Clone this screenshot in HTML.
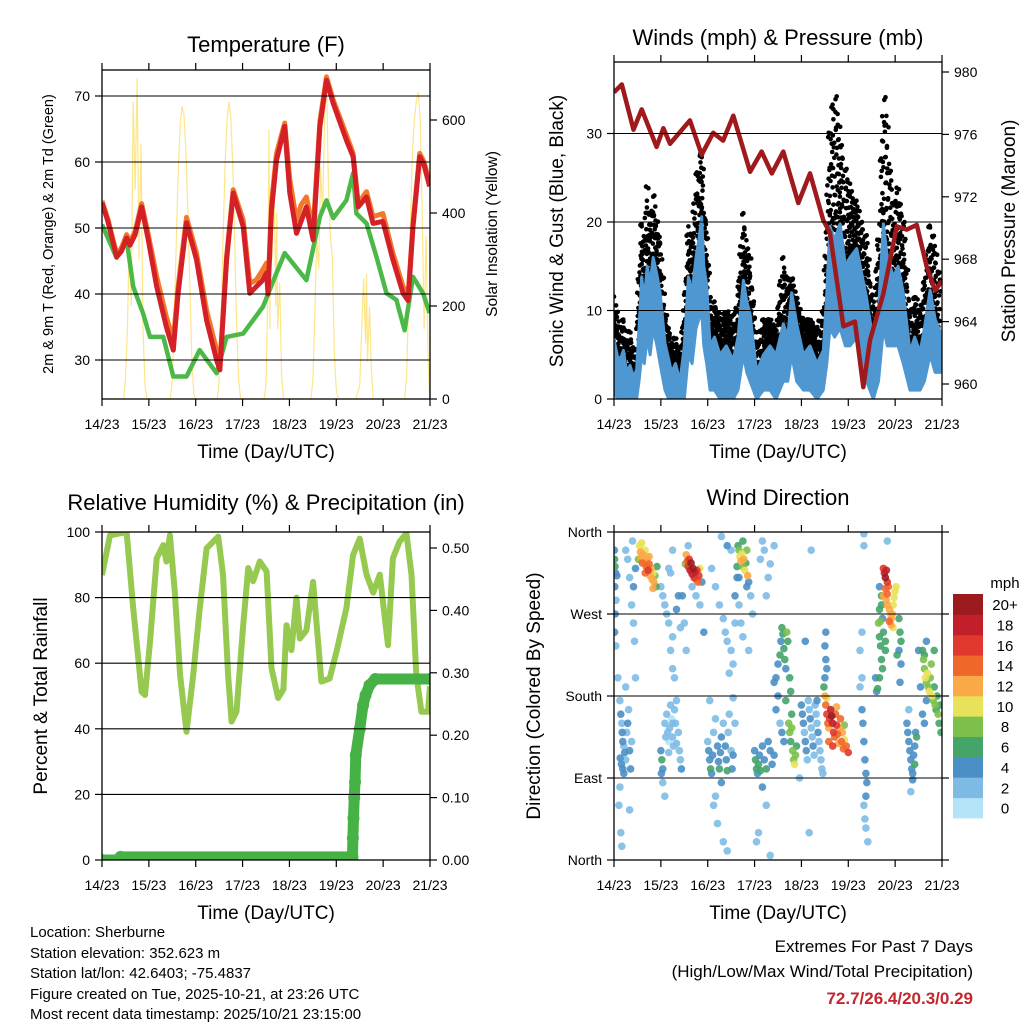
<!DOCTYPE html>
<html><head><meta charset="utf-8"><style>
body{margin:0;background:#fff}
svg{display:block;font-family:"Liberation Sans",Arial,sans-serif}
</style></head><body>
<svg id="s" width="1024" height="1024" viewBox="0 0 1024 1024" xmlns="http://www.w3.org/2000/svg">
<defs>
<clipPath id="c1"><rect x="102" y="70" width="328" height="329"/></clipPath>
<clipPath id="c2"><rect x="614" y="62" width="328" height="337"/></clipPath>
<clipPath id="c3"><rect x="102" y="532" width="328" height="328"/></clipPath>
<clipPath id="c4"><rect x="614" y="532" width="328" height="328"/></clipPath>
</defs>
<g id="g1" clip-path="url(#c1)"></g>
<g id="g2" clip-path="url(#c2)"></g>
<g id="g3" clip-path="url(#c3)"></g>
<g id="g4" clip-path="url(#c4)"></g>
<g id="ax"></g>

<text x="266" y="52" font-size="22" text-anchor="middle">Temperature (F)</text>
<text transform="translate(53,234) rotate(-90)" font-size="14.5" text-anchor="middle">2m &amp; 9m T (Red, Orange) &amp; 2m Td (Green)</text>
<text transform="translate(497,234) rotate(-90)" font-size="15.5" text-anchor="middle">Solar Insolation (Yellow)</text>
<text x="266" y="458" font-size="19" text-anchor="middle">Time (Day/UTC)</text>

<text x="778" y="45" font-size="22" text-anchor="middle">Winds (mph) &amp; Pressure (mb)</text>
<text transform="translate(563,231) rotate(-90)" font-size="19" text-anchor="middle">Sonic Wind &amp; Gust (Blue, Black)</text>
<text transform="translate(1015,231) rotate(-90)" font-size="19" text-anchor="middle">Station Pressure (Maroon)</text>
<text x="778" y="458" font-size="19" text-anchor="middle">Time (Day/UTC)</text>

<text x="266" y="510" font-size="22" text-anchor="middle">Relative Humidity (%) &amp; Precipitation (in)</text>
<text transform="translate(47,696) rotate(-90)" font-size="19" text-anchor="middle">Percent &amp; Total Rainfall</text>
<text x="266" y="919" font-size="19" text-anchor="middle">Time (Day/UTC)</text>

<text x="778" y="505" font-size="22" text-anchor="middle">Wind Direction</text>
<text transform="translate(540,696) rotate(-90)" font-size="19" text-anchor="middle">Direction (Colored By Speed)</text>
<text x="778" y="919" font-size="19" text-anchor="middle">Time (Day/UTC)</text>
<text x="1005" y="588" font-size="15" text-anchor="middle">mph</text>
<g id="cb"></g>

<g font-size="15">
<text x="30" y="937">Location: Sherburne</text>
<text x="30" y="958">Station elevation: 352.623 m</text>
<text x="30" y="978">Station lat/lon: 42.6403; -75.4837</text>
<text x="30" y="999">Figure created on Tue, 2025-10-21, at 23:26 UTC</text>
<text x="30" y="1019">Most recent data timestamp: 2025/10/21 23:15:00</text>
</g>
<text x="973" y="952" font-size="17" text-anchor="end">Extremes For Past 7 Days</text>
<text x="973" y="977" font-size="17" text-anchor="end">(High/Low/Max Wind/Total Precipitation)</text>
<text x="973" y="1004" font-size="17" font-weight="bold" fill="#c1272d" text-anchor="end">72.7/26.4/20.3/0.29</text>
</svg>
<script>
// ---------- data ----------
const dayLabels = ["14/23","15/23","16/23","17/23","18/23","19/23","20/23","21/23"];
const tempHours = [0,3,7.5,10,12.6,14.3,17,20.3,23.7,28,33,36.5,39,43.3,48.4,53.6,58.7,60.4,63.8,67.2,72.3,75.7,79,82,84.3,85,86.8,89.4,93.6,96.2,99.6,102,104.7,108.1,111.6,115,118.4,125.2,128.6,131.2,135.5,138.8,143.9,149,154.2,156.8,159.3,162.7,165,167.8];
const temp2m = [53.8,51,45.6,46.5,48.5,47.4,49,53.2,48.2,41.1,35,31.5,40.1,50.8,45.2,36,30,28.5,45.2,55.3,50.2,40.1,41.1,42,43.2,40,52.7,60.3,65.4,55.3,49.2,51,53.2,48.2,65.4,72.4,68.9,63.3,60.8,53.2,54.7,50.7,51,45.2,40.1,39,50.2,60.8,59.5,56.3];
const temp9m = [54.1,51.3,46.1,47,49,47.9,49.5,53.7,49,42.6,36.5,33,41.1,51.6,46.2,37.5,31.5,29.5,45.7,55.8,51.2,41.6,42.1,43.5,44.7,41,53.7,61.3,65.9,57.3,51.2,53.5,54.7,49.7,66.2,72.9,69.4,64.1,61.3,53.7,55.5,51.7,52.2,46.2,41.1,39.8,50.7,61.3,60,56.8];
const dewHours = [0,7.5,12.6,16,21,24.6,31.4,36.5,43.3,50,58.7,63.8,72.3,82.5,89.4,93.6,104.7,111.6,115,118.4,125.2,128.6,130.3,135.5,140.6,145.7,150.8,155,159.3,164.4,167.8];
const dewpoint = [50.5,45.5,48.3,41.1,37.1,33.5,33.5,27.5,27.5,31.5,28,33.5,34,38.1,43.2,46.2,42.1,51.7,54.2,51.5,54.2,58.3,52.2,50.7,45.6,40.1,39.1,34.5,42.6,40.1,37.1];
const solarHours = [0,11,12,13,14,15,16,17,18,19,20,21,22,23,35,36,37,38,39,40,41,42,43,44,45,46,47,48,59,60,61,62,63,64,65,66,67,68,69,70,71,83,84,85,85.5,86,86.5,87,88,89,89.5,90,91,92,93,107,108,109,110,111,112,113,114,115,116,117,118,119,120,121,130,132,133,134,135,135.5,136,137,138,139,155,156,157,158,159,160,161,162,163,164,165,166,167,167.8];
const solar = [0,0,40,150,350,200,640,450,690,300,550,150,30,0,0,40,170,330,480,590,630,610,530,400,240,90,10,0,0,40,170,340,500,600,640,600,500,330,150,40,0,0,30,250,580,150,450,300,520,200,400,150,250,50,0,0,40,180,350,280,500,400,600,700,450,350,300,100,20,0,0,30,150,260,120,270,80,200,60,0,0,50,200,380,530,600,640,660,600,400,150,350,100,0];
const tempTicks = [30,40,50,60,70];
const solarTicks = [0,200,400,600];

const windHours = [0,2.5,4.8,6.5,8.2,10,11.6,12.8,14.2,15.5,17,18.5,20.1,22,23.6,26.1,28,29.5,31.5,33.8,36,38.1,40,42,43.5,44.9,46,47.5,49.2,51.5,54.3,57.5,61.1,63.5,66.3,68,69.7,73.1,76.5,79.9,83,86.7,89,91,93.6,97,100.4,104,107.2,109,110.6,113,115.8,118.5,120.9,124.3,127,129.4,132.8,135.5,138,140,143.1,145.5,148.2,151.6,154,156.8,159,161.9,164.5,167];
const windHigh = [6.7,4,5.5,3,3.8,2.5,3.3,8,13.8,11,15,13,16,14,12,6.3,4.5,3,4,2,6,13.8,12,16,18,20.6,15,12.9,6,7,5,6,4.4,7,13.4,11,9.6,3,5,6,5,8.5,7,12,8.5,5,6,4,5.5,12,19.5,18,19.8,15,16,17,14,11.4,6.4,10,19.8,16,13.8,15,12,5.3,7,5.3,8,12.3,9,7.7];
const windLow = [0.5,0,0,0,0,0,0,2,5,4,7,5,8,6,4,1,0,0,0,0,0,5,4,8,9,10,6,4,1,1,0,0,0,1,5,3,2,0,1,1,0,2,2,5,2,1,1,0,1,4,8,7,8,6,6,7,5,2,0,2,8,6,6,6,4,1,1,1,2,5,3,3];
const gust = [12,8,9,6,8,5,6,14,20,18,24,21,23,20,18,10,8,6,7,5,10,20,18,25,27,29,22,19,10,11,9,10,9,12,21,17,16,6,9,9,8,16,13,14,11,9,9,8,10,22,31,35,30,26,24,22,20,18,10,18,35,31,22,24,20,10,12,10,14,20,17,14];
const presHours = [0,4,10,14.2,21.8,25.3,28.7,38.9,44.9,50.8,55.9,61.1,69.7,75.6,80.8,86.7,94.4,100.4,107.2,110.6,117.5,123.4,127.7,131.1,138,144.8,149.9,155.1,160.2,164.5,167.9];
const pressure = [978.7,979.2,976.3,977.6,975.2,976.4,975.4,976.9,974.7,976.1,975.6,977.2,973.6,974.9,973.5,974.9,971.6,973.5,970.5,969.7,963.7,964,959.8,962.8,965.8,970.1,969.9,970.2,967.5,966,966.6];
const windTicks = [0,10,20,30];
const presTicks = [960,964,968,972,976,980];

const rhHours = [0,4.1,12.6,16,20.3,22,24.6,28,31.4,33,34.8,37.3,40,43.3,46.7,50.1,53.6,59.5,62,64.6,66.4,68.9,72.3,74.9,77.4,80.8,84.3,86.8,90.2,92.9,94.5,97,99.6,101.3,104.7,108.1,112.4,116.6,120.1,125.2,128.6,132,135.5,138.9,142.3,146.5,149,152.4,155.9,158.5,161,163.6,167,168];
const rh = [86.9,99,100,76.8,51.3,50.3,66.5,92,96,91,99,81.8,56.4,39.1,56.4,76.8,95,98.6,87,56.4,42.2,45.2,71.6,89,85,91,88,58.5,49.4,52,71.6,64,80,67.5,70,84.8,54.4,55.3,63.5,76.8,93,98,87,81.5,87,65.5,92,97,99.6,87,56.4,45.2,45.2,53];
const precipHours = [0,9,9.5,128.3,128.5,128.8,129.2,129.6,130,132,133.7,135,137,140,168];
const precip = [0,0,0.005,0.005,0.035,0.067,0.1,0.125,0.168,0.21,0.248,0.264,0.28,0.29,0.29];
const rhTicks = [0,20,40,60,80,100];
const precipTicks = [0,0.1,0.2,0.3,0.4,0.5];

// wind direction observations: [hour, degrees, mph]
const dirDay1 = [[0.3,330,5],[0.5,322,6],[0.8,315,4],[0.4,300,3],[1,285,2],[0.6,270,4],[0.3,250,3],[0.9,235,2],[1.5,312,4],[0.2,340,3],
 [3,175,2],[3.5,160,3],[4,150,2],[4.2,140,3],[4.5,130,4],[5,125,2],[5.5,118,3],[3.2,112,4],[3.8,105,4],[4.5,100,4],[5,95,3],[6,110,2],[6.5,140,2],[7,150,3],[7.5,165,2],[8,120,3],[8.5,100,4],[9,130,2],[3,80,2],[2.5,60,1],[3.5,30,1],[4,15,1],[8,55,1],[2,200,1],[6,190,1],
 [6,340,1],[7,330,1],[8,310,2],[9,280,2],[10,260,2],[10.5,240,1],[11,200,2],[10,300,3],[11,320,4],[9.5,350,2]];
const dirDay1b = [[13,345,10],[13.5,338,12],[14,332,11],[14.5,326,13],[15,335,12],[15.5,328,12],[16,340,10],[16.5,322,14],[17,330,12],[17.5,318,16],[18,325,13],[18.5,312,12],[19,320,11],[19.5,308,12],[20,315,10],[20.5,305,12],[21,312,8],[21.5,300,6],[22,322,6],[12.5,330,8],[14.2,348,10],[16,315,14],[18,333,12],[20,298,12]];
const dirDay2 = [[24,120,4],[24.5,110,5],[25,100,4],[24.3,95,3],[26,150,1],[27,160,1],[27.5,140,1],[28,130,0],[28.5,145,1],[29,170,1],[29.5,155,0],[30,135,1],[30.5,125,1],[31,165,1],[31.5,150,1],[32,175,1],[33,140,1],[33.5,120,2],[34,110,2],[34.5,100,3],[26.5,135,1],[28,118,1],[30,150,1],[32,128,2],[25,85,2],[26,70,1],
 [24,300,2],[25,290,2],[26,280,1],[27,270,1],[28,260,2],[29,230,1],[30,210,1],[31,200,2],[28,320,1],[30,340,1],[33,290,3],[32,275,3],[34,255,2],[35,290,3],[30,245,1],[29,315,2],
 [37,335,12],[37.5,328,14],[38,322,16],[38.5,330,16],[39,318,18],[39.5,326,20],[40,314,18],[40.5,320,20],[41,310,16],[41.5,316,18],[42,308,14],[42.5,318,16],[43,305,14],[43.5,312,16],[44,320,10],[45,305,4],[36.5,325,8],
 [38,345,2],[40,300,2],[42,290,1],[44,280,2],[46,250,3],[36,260,1],[37,230,2]];
const dirDay3 = [[48,130,2],[48.5,120,3],[49,110,4],[49.5,100,5],[50,95,4],[50.5,115,3],[51,140,2],[52,155,2],[53,125,3],[53.5,108,4],[54,100,6],[54.5,118,4],[55,135,3],[56,150,2],[57,125,3],[57.5,110,4],[58,98,5],[58.5,140,2],[59,160,2],[60,120,2],[60.5,100,3],[61,115,3],[62,150,2],[55,85,3],[52,70,2],[51,60,1],[53,40,2],[56,20,1],[58,10,1],[49,175,1],[61,178,1],
 [50,320,1],[52,300,1],[54,280,2],[56,265,2],[57,250,1],[58,240,1],[60,230,2],[61,215,2],[59,205,2],[62,260,2],[62,290,3],[63,310,3],[60,340,1],[55,355,2],[58,345,3],
 [63.5,345,6],[64,340,8],[64.5,333,10],[65,328,12],[65.5,336,10],[66,322,8],[66.5,330,12],[67,318,10],[67.5,326,6],[68,340,8],[68.5,312,12],[63,322,5],[66,350,6],[69,305,4],[64,310,4],
 [64,280,2],[65,260,2],[66,245,1],[68,300,3],[70,290,2],[71,270,2],[69,230,1]];
const dirDay4 = [[72,120,4],[72.5,110,5],[73,100,6],[73.5,95,4],[74,105,6],[74.5,115,4],[75,98,5],[76,125,3],[77,110,4],[78,100,5],[79,130,3],[80,120,4],[81,105,3],[82,115,4],[76,80,3],[78,60,2],[74,30,1],[80,5,1],[73,20,1],[76,350,1],[75,330,1],[77,340,2],[79,310,2],[80,325,2],[82,345,2],[78,290,2],
 [82,195,4],[83,200,3],[84,215,4],[85,225,5],[85.5,240,4],[86,255,6],[86.5,248,5],[87,232,6],[87.5,220,5],[88,210,4],[88.5,250,7],[89,240,6],[90,200,6],[90.5,185,5],[84,180,3],[83,165,3],[85,150,2],[86,140,3],[87,130,3],[88,175,6],
 [89.5,150,8],[90,140,7],[90.5,130,6],[91,145,8],[91.5,120,7],[92,110,8],[92.5,105,9],[93,115,7],[93.5,125,6],[91,160,6]];
const dirDay5 = [[96,170,3],[96.5,160,4],[97,150,3],[97.5,140,2],[98,130,3],[98.5,120,3],[99,110,2],[99.5,175,2],[100,165,2],[100.5,155,3],[101,145,2],[101.5,135,2],[102,125,3],[102.5,115,2],[103,170,2],[103.5,160,2],[104,150,2],[104.5,140,3],[105,130,2],[105.5,120,2],[106,110,2],[106.5,100,2],[107,95,2],[104,175,3],[108,200,4],[108.5,220,4],[109,210,4],[107.5,190,5],[108,235,3],[108.5,250,4],[98,240,3],[95,90,2],[100,30,1],[101,340,1],
 [108,180,12],[108.5,170,14],[109,160,16],[109.5,150,14],[110,145,12],[110.5,155,16],[111,165,18],[111.5,158,20],[112,150,18],[112.5,140,16],[113,135,14],[113.5,160,14],[114,148,16],[114.5,138,14],[115,128,12],[115.5,145,12],[116,155,14],[116.5,130,13],[117,140,12],[117.5,122,14],[118,132,10],[119,125,14],[120,118,15],[110,130,14],[112,125,15],[114,168,12],[118,148,8],[109,178,10]];
const dirDay6 = [[127,165,3],[127.5,150,4],[128,130,4],[128.5,110,3],[129,95,3],[129.5,85,4],[128,60,2],[128.5,45,2],[129,35,1],[130,20,2],[129,70,3],[127,200,2],[126,230,2],[127,250,1],[128,358,1],[128,345,1],[126,190,2],
 [138,320,16],[138.5,315,18],[139,310,20],[139.5,318,18],[140,305,16],[140.5,300,14],[139,298,14],[138,290,12],[139.5,285,12],[140,280,12],[141,275,12],[141.5,270,10],[142,265,12],[142.5,270,12],[143,280,10],[143.5,288,10],[144,295,10],[144.5,300,10],[142,258,12],[143,255,10],[141,262,14],[140,292,14],
 [137,290,6],[136,275,6],[135.5,260,8],[136,245,6],[136.5,235,6],[137,220,6],[137.5,210,6],[136,200,6],[135,188,6],[136.5,262,8],[137,280,6],[146,265,6],[146.5,250,6],[147,240,6],[146,230,4],[147,215,4],[146.5,195,4],[134,200,3],[134.5,185,3],[145,225,6],[139,240,6],[139,230,6],[138,250,5],[137.5,265,4],[136,300,4],[140,350,1]];
const dirDay7 = [[150,150,3],[150.5,140,4],[151,130,4],[151.5,120,3],[152,110,4],[152.5,100,4],[153,95,3],[153.5,115,4],[154,125,4],[154.5,140,3],[155,135,5],[153,88,3],[151,165,2],[152,75,2],[154,105,6],
 [158,230,6],[158.5,220,8],[159,210,8],[159.5,200,10],[160,195,8],[160.5,205,10],[161,190,8],[161.5,185,10],[162,200,8],[162.5,215,8],[163,180,10],[163.5,175,8],[164,190,6],[164.5,170,8],[165,165,6],[165.5,180,6],[166,160,8],[166.5,150,6],[167,170,6],[167.5,140,6],[159,225,6],[160,240,4],[164,230,6],[158,160,4],[159,150,3],[160,175,4],[157,190,3],[156,230,4]];
const dirTicks = ["North","East","South","West","North"];
const speedClasses = ["0","2","4","6","8","10","12","14","16","18","20+"];
const speedColors = ["#b5e3f8","#7dbbe5","#4a8fc6","#45a46a","#7cc04b","#e8e15a","#f9a945","#f0672b","#e0382c","#c1202a","#9b1b1e"];

// ---------- helpers ----------
const NS="http://www.w3.org/2000/svg";
function mk(parent,tag,attrs){const e=document.createElementNS(NS,tag);for(const k in attrs)e.setAttribute(k,attrs[k]);parent.appendChild(e);return e;}
const ax=document.getElementById('ax');
const xL=h=>102+h/168*328, xR=h=>614+h/168*328;
const yT=t=>96+(70-t)*6.6, yS=s=>399-s*0.465;
const yW=v=>399-v*8.85, yP=p=>72+(980-p)*15.6;
const yR=r=>860-r*3.28, yPr=p=>860-p*624;
const yD=d=>860-d/360*328;
function pts(xs,ys,fx,fy){return xs.map((h,i)=>fx(h).toFixed(1)+","+fy(ys[i]).toFixed(1)).join(" ");}

function frame(x0,y0,x1,y1,xf,name){
  const r=mk(ax,'rect',{x:x0,y:y0,width:x1-x0,height:y1-y0,fill:'none',stroke:'#000','stroke-width':1.3});
  
  
  for(let d=0;d<8;d++){
    const x=xf(d*24);
    mk(ax,'line',{x1:x,x2:x,y1:y1,y2:y1+7,stroke:'#000','stroke-width':1.2});
    mk(ax,'line',{x1:x,x2:x,y1:y0,y2:y0-7,stroke:'#000','stroke-width':1.2});
    const t=mk(ax,'text',{x:x,y:y1+30,'font-size':14,'text-anchor':'middle'});
    t.textContent=dayLabels[d];
    
    
  }
}
function leftTicks(vals,fy,x0,x1,labels,name,grid){
  vals.forEach((v,i)=>{
    const y=fy(v);
    if(grid){const g=mk(ax,'line',{x1:x0,x2:x1,y1:y,y2:y,stroke:'#000','stroke-width':1.1});
      
      }
    mk(ax,'line',{x1:x0-7,x2:x0,y1:y,y2:y,stroke:'#000','stroke-width':1.2});
    const t=mk(ax,'text',{x:x0-12,y:y+5,'font-size':14,'text-anchor':'end'});
    t.textContent=labels?labels[i]:v;
    
    
  });
}
function rightTicks(vals,fy,x1,name,fmt){
  vals.forEach(v=>{
    const y=fy(v);
    mk(ax,'line',{x1:x1,x2:x1+7,y1:y,y2:y,stroke:'#000','stroke-width':1.2});
    const t=mk(ax,'text',{x:x1+12,y:y+5,'font-size':14});
    t.textContent=fmt?fmt(v):v;
    
    
  });
}

// ---------- panel 1: temperature ----------
const g1=document.getElementById('g1');
let e;
e=mk(g1,'polyline',{points:pts(solarHours,solar,xL,yS),fill:'none',stroke:'#fde68a','stroke-width':1.2});


e=mk(g1,'polyline',{points:pts(dewHours,dewpoint,xL,yT),fill:'none',stroke:'#4cb848','stroke-width':4.5,'stroke-linejoin':'round'});


e=mk(g1,'polyline',{points:pts(tempHours,temp9m,xL,yT),fill:'none',stroke:'#f4782a','stroke-width':5,'stroke-linejoin':'round'});


e=mk(g1,'polyline',{points:pts(tempHours,temp2m,xL,yT),fill:'none',stroke:'#d42027','stroke-width':5,'stroke-linejoin':'round'});


frame(102,70,430,399,xL,'temperature');
leftTicks(tempTicks,yT,102,430,null,'temperature',true);
rightTicks(solarTicks,yS,430,'solar');

// ---------- panel 2: wind ----------
const g2=document.getElementById('g2');
let j=0;
for(let i=0;i<windHours.length-1;i++){
  for(let h=windHours[i];h<windHours[i+1];h+=0.45){
    j++;
    const f=(h-windHours[i])/(windHours[i+1]-windHours[i]);
    const hi=windHigh[i]+(windHigh[i+1]-windHigh[i])*f;
    const gu=gust[i]+(gust[i+1]-gust[i])*f;
    const fr=[0.05,0.3,0.55,0.8,1.0];
    for(let k=0;k<fr.length;k++){
      const ff=(fr[k]+((j*3+k)%4)*0.06)%1.05;
      const v=hi+(gu-hi)*ff;
      const c=mk(g2,'circle',{cx:(xR(h)+((j+k)%3-1)*1.2).toFixed(1),cy:yW(v).toFixed(1),r:2.3,fill:'#000'});
      
      
    }
  }
}
const bandPts=pts(windHours,windHigh,xR,yW)+" "+pts(windHours.slice().reverse(),windLow.slice().reverse(),xR,yW);
e=mk(g2,'polygon',{points:bandPts,fill:'#4f97d1',stroke:'#4f97d1','stroke-width':3,'stroke-linejoin':'round'});


e=mk(g2,'polyline',{points:pts(presHours,pressure,xR,yP),fill:'none',stroke:'#a0191d','stroke-width':4.5,'stroke-linejoin':'round'});


frame(614,62,942,399,xR,'wind');
leftTicks(windTicks,yW,614,942,null,'wind',true);
rightTicks(presTicks,yP,942,'pressure');

// ---------- panel 3: humidity ----------
const g3=document.getElementById('g3');
e=mk(g3,'polyline',{points:pts(rhHours,rh,xL,yR),fill:'none',stroke:'#95c950','stroke-width':6,'stroke-linejoin':'round'});


e=mk(g3,'polyline',{points:pts(precipHours,precip,xL,yPr),fill:'none',stroke:'#46b245','stroke-width':11,'stroke-linecap':'round','stroke-linejoin':'round'});


precipHours.forEach((h,i)=>{
  const c=mk(g3,'circle',{cx:xL(h),cy:yPr(precip[i]),r:6,fill:'#46b245'});
  
  
});
frame(102,532,430,860,xL,'humidity');
leftTicks(rhTicks,yR,102,430,null,'humidity',true);
rightTicks(precipTicks,yPr,430,'precip',v=>v.toFixed(2));

// ---------- panel 4: direction ----------
const g4=document.getElementById('g4');
const allDir=[].concat(dirDay1,dirDay1b,dirDay2,dirDay3,dirDay4,dirDay5,dirDay6,dirDay7);
allDir.slice().sort((a,b)=>a[2]-b[2]).forEach(o=>{
  const cls=Math.min(10,Math.round(o[2]/2));
  const c=mk(g4,'circle',{cx:xR(o[0]).toFixed(1),cy:yD(o[1]).toFixed(1),r:3.8,fill:speedColors[cls],'fill-opacity':0.9});
  
  
});
frame(614,532,942,860,xR,'direction');
leftTicks([0,90,180,270,360],yD,614,942,dirTicks,'direction',true);
[0,90,180,270,360].forEach(v=>{mk(ax,'line',{x1:942,x2:949,y1:yD(v),y2:yD(v),stroke:'#000','stroke-width':1.2});});

// colorbar
const cb=document.getElementById('cb');
speedClasses.forEach((lab,i)=>{
  const y=818-(i+1)*20.36;
  const r=mk(cb,'rect',{x:953,y:y.toFixed(1),width:30,height:20.8,fill:speedColors[i]});
  
  
  const t=mk(cb,'text',{x:1005,y:(y+16).toFixed(1),'font-size':15,'text-anchor':'middle'});
  t.textContent=lab;
  
  
});
</script>
</body></html>
